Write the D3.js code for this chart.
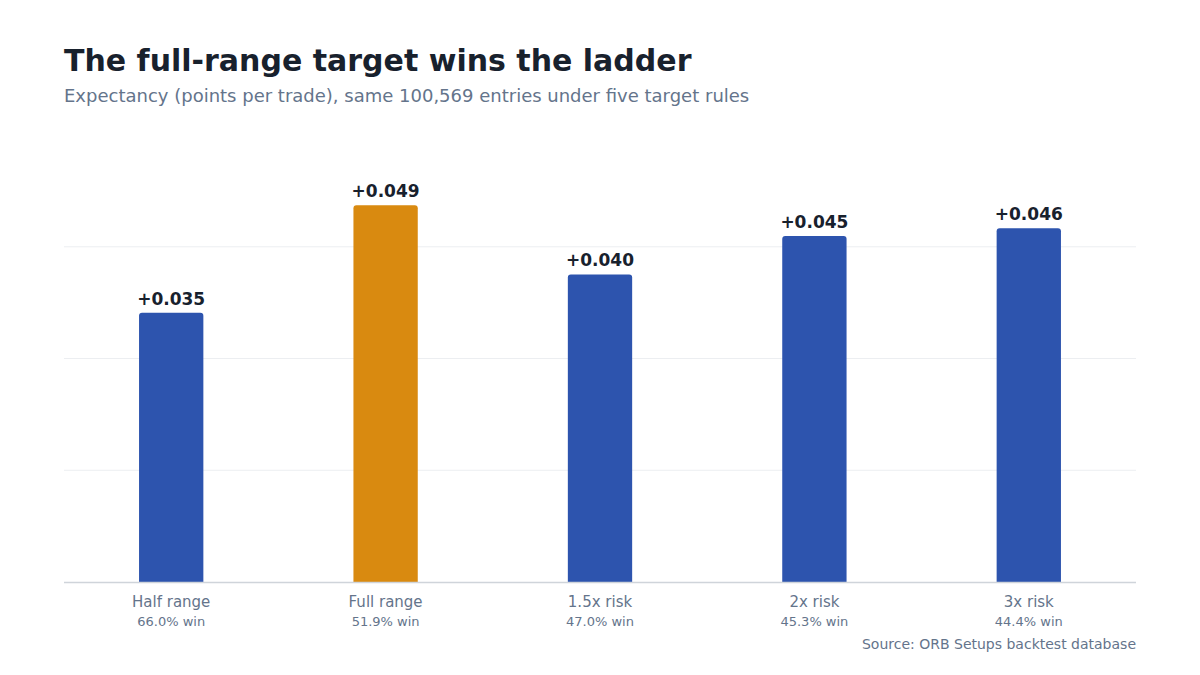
<!DOCTYPE html>
<html>
<head>
<meta charset="utf-8">
<script src="https://cdn.jsdelivr.net/npm/d3@7"></script>
<style>
  body { margin: 0; background: #fff; }
  svg { font-family: "DejaVu Sans", sans-serif; }
</style>
</head>
<body>
<svg id="chart" width="1200" height="675"></svg>
<script>
const categories = ['Half range', 'Full range', '1.5x risk', '2x risk', '3x risk'];
const expectancy = [0.035, 0.049, 0.040, 0.045, 0.046];
const winRates = ['66.0% win', '51.9% win', '47.0% win', '45.3% win', '44.4% win'];
const highlight = 'Full range';
const gridValues = [0.01453, 0.02906, 0.04359];

const svg = d3.select('#chart');
const left = 64, right = 1136, base = 582;

const x = d3.scaleBand().domain(categories).range([left, right]).paddingInner(0.7).paddingOuter(0.35);
const y = d3.scaleLinear().domain([0, 0.05]).range([base, base - 0.05 * 7690]);

svg.append('text').attr('x', 64).attr('y', 71)
  .attr('font-size', 30).attr('font-weight', 'bold').attr('fill', '#18212d')
  .text('The full-range target wins the ladder');
svg.append('text').attr('x', 64).attr('y', 102)
  .attr('font-size', 18).attr('fill', '#64748b')
  .text('Expectancy (points per trade), same 100,569 entries under five target rules');

svg.selectAll('.grid').data(gridValues).join('line')
  .attr('x1', left).attr('x2', right)
  .attr('y1', d => y(d)).attr('y2', d => y(d))
  .attr('stroke', '#eceef1').attr('stroke-width', 1);

const r = 3;
svg.selectAll('.bar').data(categories).join('path')
  .attr('d', (c, i) => {
    const x0 = x(c), w = x.bandwidth(), t = y(expectancy[i]);
    return `M${x0},${base}V${t + r}Q${x0},${t} ${x0 + r},${t}H${x0 + w - r}Q${x0 + w},${t} ${x0 + w},${t + r}V${base}Z`;
  })
  .attr('fill', c => c === highlight ? '#d98a10' : '#2d54ae');

svg.append('line').attr('x1', left).attr('x2', right).attr('y1', base + 0.5).attr('y2', base + 0.5)
  .attr('stroke', '#cfd4da').attr('stroke-width', 1.5);

svg.selectAll('.val').data(categories).join('text')
  .attr('x', c => x(c) + x.bandwidth() / 2)
  .attr('y', (c, i) => y(expectancy[i]) - 8)
  .attr('text-anchor', 'middle').attr('font-size', 17).attr('font-weight', 'bold').attr('fill', '#18212d')
  .text((c, i) => '+' + expectancy[i].toFixed(3));

svg.selectAll('.cat').data(categories).join('text')
  .attr('x', c => x(c) + x.bandwidth() / 2).attr('y', 607)
  .attr('text-anchor', 'middle').attr('font-size', 15).attr('fill', '#64748b')
  .text(c => c);

svg.selectAll('.win').data(categories).join('text')
  .attr('x', c => x(c) + x.bandwidth() / 2).attr('y', 626)
  .attr('text-anchor', 'middle').attr('font-size', 13).attr('fill', '#64748b')
  .text((c, i) => winRates[i]);

svg.append('text').attr('x', right).attr('y', 649).attr('text-anchor', 'end')
  .attr('font-size', 14).attr('fill', '#64748b')
  .text('Source: ORB Setups backtest database');
</script>
</body>
</html>
